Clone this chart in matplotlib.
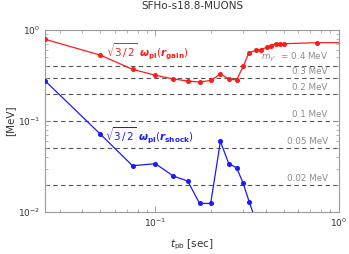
import numpy as np
import matplotlib
matplotlib.use('Agg')
import matplotlib.pyplot as plt
from matplotlib.ticker import LogLocator, NullFormatter

# data
t_gain = [0.025, 0.050, 0.075, 0.100, 0.125, 0.150, 0.174, 0.201, 0.226, 0.251,
          0.277, 0.302, 0.323, 0.353, 0.375, 0.405, 0.425, 0.455, 0.478, 0.503,
          0.762, 1.0]
w_gain = [0.79, 0.53, 0.37, 0.318, 0.29, 0.275, 0.268, 0.28, 0.328, 0.29,
          0.282, 0.405, 0.56, 0.60, 0.61, 0.646, 0.673, 0.707, 0.707, 0.707,
          0.725, 0.725]

t_shock = [0.025, 0.050, 0.075, 0.100, 0.125, 0.150, 0.174, 0.200, 0.226, 0.251,
           0.277, 0.300, 0.325, 0.353]
w_shock = [0.277, 0.072, 0.0323, 0.034, 0.0249, 0.0219, 0.01245, 0.01245, 0.0598, 0.034,
           0.0307, 0.021, 0.0128, 0.008]

m_lines = [0.4, 0.3, 0.2, 0.1, 0.05, 0.02]
m_labels = [r"$m_{\gamma'}$  = 0.4 MeV", "0.3 MeV", "0.2 MeV", "0.1 MeV", "0.05 MeV", "0.02 MeV"]

red = '#ff1a1a'
blue = '#1a1aff'
frame = '#9a9a9a'

fig = plt.figure(figsize=(3.49, 2.54), dpi=100)
ax = fig.add_axes([0.129, 0.165, 0.842, 0.717])

for m, lab in zip(m_lines, m_labels):
    ax.axhline(m, color='#555555', lw=0.8, ls=(0, (4, 3)), zorder=1)
    ax.annotate(lab, (0.87, m), xytext=(0, 1.5), textcoords='offset points',
                ha='right', va='bottom', fontsize=6.3, color='#8c8c8c')

ax.plot(t_gain, w_gain, color=red, lw=0.9, marker='o', ms=2.6, zorder=3,
        markevery=list(range(len(t_gain) - 1)))
ax.plot(t_shock, w_shock, color=blue, lw=0.9, marker='o', ms=2.6, zorder=3)

ax.text(0.054, 0.58, r'$\sqrt{3\,/\,2}\ \boldsymbol{\omega}_{\mathbf{pl}}(\boldsymbol{r}_{\mathbf{gain}})$',
        color=red, fontsize=7.5, ha='left', va='center')
ax.text(0.053, 0.068, r'$\sqrt{3\,/\,2}\ \boldsymbol{\omega}_{\mathbf{pl}}(\boldsymbol{r}_{\mathbf{shock}})$',
        color=blue, fontsize=7.5, ha='left', va='center')

ax.set_xscale('log')
ax.set_yscale('log')
ax.set_xlim(0.025, 1.0)
ax.set_ylim(0.01, 1.0)

ax.xaxis.set_major_locator(LogLocator(base=10))
ax.xaxis.set_minor_locator(LogLocator(base=10, subs=np.arange(2, 10)))
ax.xaxis.set_minor_formatter(NullFormatter())
ax.yaxis.set_minor_locator(LogLocator(base=10, subs=np.arange(2, 10)))
ax.yaxis.set_minor_formatter(NullFormatter())

ax.tick_params(which='both', direction='in', top=True, right=True, colors=frame,
               labelcolor='#333333', labelsize=6.5)
ax.tick_params(which='major', length=4, width=0.6)
ax.tick_params(which='minor', length=2, width=0.5)
for s in ax.spines.values():
    s.set_color(frame)
    s.set_linewidth(0.8)

ax.set_title('SFHo-s18.8-MUONS', fontsize=7.5, color='#333333', pad=15)
ax.set_xlabel(r'$t_{\rm pb}$ [sec]', fontsize=7.5, color='#333333', labelpad=6)
ax.set_ylabel('[MeV]', fontsize=7.5, color='#333333', labelpad=2)

fig.savefig('out.png', dpi=100)
